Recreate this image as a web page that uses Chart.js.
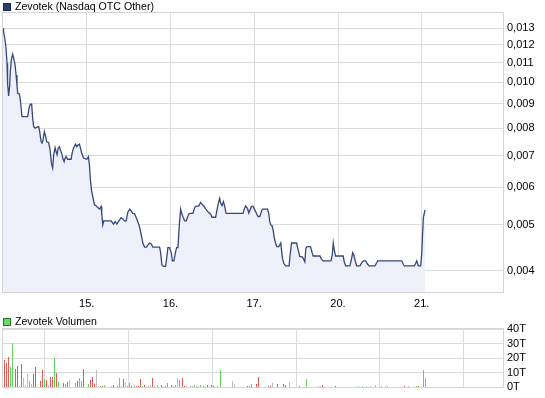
<!DOCTYPE html>
<html><head><meta charset="utf-8">
<script src="https://cdn.jsdelivr.net/npm/chart.js@4"></script>
<style>
html,body{margin:0;padding:0;background:#fff;overflow:hidden;}
#wrap{position:relative;width:545px;height:398px;}
#c1{position:absolute;left:0;top:0;}
#c2{position:absolute;left:0;top:312px;}
</style></head><body>
<div id="wrap">
<canvas id="c1" width="545" height="312"></canvas>
<canvas id="c2" width="545" height="86"></canvas>
</div>
<script>
// ---- DATA ----
const seriesName = "Zevotek (Nasdaq OTC Other)";
const volumeName = "Zevotek Volumen";
const dayTicks = [1, 2, 3, 4, 5];
const dayLabels = ["15.", "16.", "17.", "20.", "21."];
const priceTicks = [0.004, 0.005, 0.006, 0.007, 0.008, 0.009, 0.010, 0.011, 0.012, 0.013];
const volumeTicks = [0, 10000, 20000, 30000, 40000];

// time in trading days since start of the window
const priceTime = [0.000,0.007,0.024,0.036,0.048,0.055,0.067,0.079,0.087,0.099,0.115,0.127,0.144,0.156,0.167,0.175,0.195,0.207,0.219,0.227,0.294,0.315,0.327,0.342,0.354,0.366,0.383,0.407,0.426,0.438,0.455,0.467,0.478,0.494,0.510,0.522,0.545,0.562,0.578,0.593,0.605,0.622,0.634,0.646,0.658,0.673,0.685,0.701,0.713,0.730,0.742,0.754,0.773,0.813,0.825,0.841,0.865,0.880,0.897,0.913,0.925,0.940,0.961,
1.000,1.020,1.032,1.044,1.056,1.072,1.092,1.112,1.132,1.152,1.172,1.179,1.191,1.203,1.292,1.319,1.340,1.359,1.383,1.411,1.431,1.451,1.471,1.490,1.514,1.531,1.550,1.571,1.591,1.610,1.630,1.651,1.670,1.690,1.714,1.730,1.750,1.770,1.789,1.830,1.870,1.882,1.897,1.914,1.941,1.957,1.969,1.989,
2.010,2.022,2.041,2.057,2.073,2.089,2.105,2.121,2.133,2.153,2.169,2.189,2.216,2.232,2.268,2.288,2.309,2.336,2.360,2.376,2.400,2.428,2.456,2.480,2.495,2.539,2.555,2.572,2.587,2.599,2.615,2.632,2.647,2.663,2.866,2.878,2.895,2.919,2.934,2.950,2.967,2.986,
3.006,3.026,3.045,3.066,3.086,3.098,3.158,3.173,3.185,3.197,3.213,3.225,3.237,3.254,3.269,3.293,3.317,3.325,3.337,3.353,3.373,3.416,3.428,3.445,3.505,3.524,3.544,3.572,3.589,3.604,3.616,3.632,3.672,3.691,3.703,3.784,3.804,3.823,3.915,3.931,3.943,3.955,3.971,
4.062,4.074,4.091,4.142,4.163,4.175,4.190,4.202,4.222,4.262,4.282,4.301,4.330,4.354,4.370,4.441,4.462,4.474,4.761,4.780,4.792,4.911,4.928,4.940,4.959,4.988,
5.000,5.012,5.019,5.039];
const priceValue = [0.01300,0.01279,0.01228,0.01180,0.01097,0.00995,0.00936,0.00979,0.01053,0.01115,0.01146,0.01124,0.01088,0.01036,0.00987,0.00948,0.00945,0.00918,0.00874,0.00846,0.00846,0.00888,0.00899,0.00899,0.00840,0.00806,0.00800,0.00804,0.00806,0.00787,0.00749,0.00744,0.00756,0.00787,0.00768,0.00749,0.00746,0.00720,0.00675,0.00659,0.00703,0.00728,0.00714,0.00703,0.00726,0.00731,0.00720,0.00708,0.00692,0.00680,0.00692,0.00697,0.00688,0.00688,0.00708,0.00726,0.00740,0.00731,0.00738,0.00740,0.00726,0.00708,0.00692,
0.00688,0.00697,0.00669,0.00622,0.00593,0.00574,0.00551,0.00549,0.00544,0.00540,0.00547,0.00529,0.00500,0.00510,0.00510,0.00502,0.00508,0.00502,0.00510,0.00518,0.00515,0.00510,0.00510,0.00532,0.00540,0.00535,0.00529,0.00528,0.00518,0.00508,0.00496,0.00476,0.00458,0.00449,0.00449,0.00454,0.00458,0.00456,0.00449,0.00449,0.00449,0.00437,0.00412,0.00409,0.00409,0.00429,0.00448,0.00448,
0.00436,0.00420,0.00420,0.00436,0.00448,0.00448,0.00500,0.00540,0.00529,0.00518,0.00510,0.00510,0.00527,0.00529,0.00529,0.00544,0.00548,0.00548,0.00558,0.00553,0.00547,0.00538,0.00531,0.00527,0.00519,0.00519,0.00538,0.00556,0.00569,0.00556,0.00549,0.00560,0.00547,0.00529,0.00529,0.00538,0.00548,0.00542,0.00530,0.00538,0.00547,0.00547,
0.00538,0.00529,0.00521,0.00521,0.00534,0.00540,0.00540,0.00529,0.00508,0.00500,0.00498,0.00488,0.00472,0.00458,0.00450,0.00450,0.00458,0.00443,0.00425,0.00415,0.00410,0.00410,0.00432,0.00458,0.00458,0.00443,0.00429,0.00428,0.00424,0.00418,0.00447,0.00450,0.00450,0.00437,0.00430,0.00430,0.00423,0.00420,0.00420,0.00432,0.00458,0.00443,0.00430,
0.00430,0.00418,0.00410,0.00410,0.00425,0.00437,0.00432,0.00422,0.00410,0.00410,0.00416,0.00420,0.00420,0.00413,0.00410,0.00410,0.00416,0.00420,0.00420,0.00413,0.00410,0.00410,0.00415,0.00420,0.00410,0.00410,
0.00436,0.00488,0.00519,0.00538];

const volumeTime = [0.019,0.043,0.067,0.091,0.115,0.147,0.175,0.199,0.222,0.246,0.270,0.294,0.318,0.342,0.366,0.390,0.450,0.474,0.498,0.522,0.545,0.569,0.593,0.617,0.641,0.665,0.725,0.749,0.773,0.797,0.868,0.892,0.916,0.940,0.964,
1.024,1.048,1.072,1.096,1.120,1.167,1.191,1.215,1.299,1.323,1.371,1.395,1.419,1.443,1.467,1.490,1.514,1.538,1.574,1.598,1.622,1.646,1.670,1.694,1.742,1.766,1.789,1.813,1.849,1.897,1.921,1.945,1.969,
2.017,2.041,2.065,2.089,2.112,2.148,2.172,2.196,2.244,2.268,2.292,2.316,2.340,2.364,2.388,2.447,2.495,2.519,2.567,2.591,2.746,2.770,2.914,2.938,2.962,
3.022,3.045,3.165,3.189,3.213,3.273,3.344,3.368,3.416,3.536,3.620,3.763,3.787,3.811,3.967,
4.242,4.289,4.337,4.385,4.445,4.517,4.565,4.589,4.792,4.840,4.935,4.959,
5.019,5.043];
const volumeValue = [18900,16900,20900,14200,30200,12900,14900,900,16200,6200,1600,8900,4200,2200,8900,14200,4200,11600,5600,4900,1600,6900,6900,20200,10200,3600,2900,2200,3600,4900,2900,4200,6200,4200,12900,
2200,4900,6900,2200,11600,900,900,1600,900,1600,900,6200,900,5600,3600,900,2900,900,1600,900,900,5600,900,1600,900,1600,6200,900,1600,1600,900,900,2900,
1600,900,1600,6200,4900,6200,900,900,900,900,1600,900,900,1600,900,1600,1600,900,900,11600,4200,2200,900,900,2200,
2200,6900,1600,900,2900,2200,2200,1600,3600,900,5600,900,900,1600,900,
900,900,900,900,1600,900,900,900,900,900,900,900,
11600,6200];
// 1 = up (green), -1 = down (red), 0 = unchanged (grey)
const volumeDir = [-1,-1,-1,1,1,-1,-1,0,-1,0,0,0,1,0,-1,-1,-1,-1,1,-1,0,-1,-1,1,-1,1,-1,1,-1,0,1,-1,1,1,-1,
1,-1,-1,-1,0,1,-1,1,0,-1,-1,1,0,-1,0,1,1,-1,0,-1,-1,-1,1,-1,0,0,-1,0,0,-1,0,0,1,
-1,0,1,0,1,-1,-1,0,0,0,1,0,0,1,-1,-1,-1,-1,1,1,0,0,-1,-1,1,
-1,-1,0,-1,0,-1,-1,-1,0,-1,1,0,0,-1,-1,
0,1,0,0,0,0,0,0,-1,0,1,-1,
1,1];

// ---- STYLE ----
const FONT = "'Liberation Sans', Arial, sans-serif";
const GRID = '#dcdcdc';
const X_MAX = 5.97;
Chart.defaults.font.family = FONT;
Chart.defaults.font.size = 11;
Chart.defaults.color = '#000';

const boxLegend = {
  id: 'boxLegend',
  afterDraw(chart, args, o) {
    const ctx = chart.ctx;
    ctx.save();
    ctx.fillStyle = o.fill;
    ctx.fillRect(o.x, o.y, 8, 8);
    ctx.strokeStyle = o.stroke;
    ctx.lineWidth = 1;
    ctx.strokeRect(o.x + 0.5, o.y + 0.5, 7, 7);
    ctx.fillStyle = '#000';
    ctx.font = '10.6px ' + FONT;
    ctx.textBaseline = 'middle';
    ctx.textAlign = 'left';
    ctx.fillText(o.text, o.x + 12, o.y + 4.5);
    ctx.restore();
  }
};
const frame = {
  id: 'frame',
  afterDraw(chart) {
    const a = chart.chartArea, ctx = chart.ctx;
    ctx.save();
    ctx.strokeStyle = '#d4d4d4';
    ctx.lineWidth = 1;
    ctx.strokeRect(Math.round(a.left) - 0.5, Math.round(a.top) - 0.5, Math.round(a.right - a.left) + 1, Math.round(a.bottom - a.top) + 1);
    ctx.restore();
  }
};
// snap thin volume bars to whole pixels so they render crisp
const snapBars = {
  id: 'snapBars',
  beforeDatasetsDraw(chart) {
    chart.getDatasetMeta(0).data.forEach(el => {
      el.x = Math.floor(el.x) + 0.5;
      el.y = Math.round(el.y);
      el.base = Math.round(el.base);
    });
  }
};

function xScale(showLabels, height) {
  return {
    type: 'linear', min: 0, max: X_MAX, offset: false,
    afterBuildTicks: s => { s.ticks = dayTicks.map(v => ({ value: v })); },
    afterFit: s => { s.height = height; },
    grid: { color: GRID, drawTicks: false },
    border: { display: false },
    ticks: { display: showLabels, padding: 5, autoSkip: false, maxRotation: 0,
      callback: (v, i) => dayLabels[i] }
  };
}

new Chart(document.getElementById('c1'), {
  type: 'line',
  data: {
    datasets: [{
      label: seriesName,
      data: priceTime.map((t, i) => ({ x: t, y: priceValue[i] })),
      borderColor: '#34487a',
      borderWidth: 1.3,
      backgroundColor: '#eef1f9',
      fill: 'start',
      pointRadius: 0,
      tension: 0
    }]
  },
  options: {
    responsive: false, animation: false, events: [],
    layout: { padding: { left: 3, top: 13, right: 0, bottom: 0 } },
    plugins: {
      legend: { display: false }, tooltip: { enabled: false },
      boxLegend: { x: 3, y: 3, fill: '#2c3e6e', stroke: '#1c2a4e', text: seriesName }
    },
    scales: {
      x: xScale(true, 20),
      y: {
        type: 'logarithmic', position: 'right', min: 0.00361, max: 0.0140,
        afterBuildTicks: s => { s.ticks = priceTicks.map(v => ({ value: v })); },
        afterFit: s => { s.width = 42; },
        grid: { color: GRID, drawTicks: false },
        border: { display: false },
        ticks: { padding: 4, autoSkip: false,
          callback: v => Number(v).toFixed(3).replace('.', ',') }
      }
    }
  },
  plugins: [boxLegend, frame]
});

new Chart(document.getElementById('c2'), {
  type: 'bar',
  data: {
    datasets: [{
      label: volumeName,
      data: volumeTime.map((t, i) => ({ x: t, y: volumeValue[i] })),
      backgroundColor: volumeDir.map(d => d > 0 ? '#5fd35a' : (d < 0 ? '#e05a5a' : '#bdbdbd')),
      barThickness: 1,
      inflateAmount: 0,
      borderWidth: 0
    }]
  },
  options: {
    responsive: false, animation: false, events: [],
    layout: { padding: { left: 3, top: 17, right: 0, bottom: 0 } },
    plugins: {
      legend: { display: false }, tooltip: { enabled: false },
      boxLegend: { x: 3, y: 6, fill: '#66dd66', stroke: '#2f6f2f', text: volumeName }
    },
    scales: {
      x: xScale(false, 9),
      y: {
        type: 'linear', position: 'right', min: 0, max: 40000,
        afterBuildTicks: s => { s.ticks = volumeTicks.map(v => ({ value: v })); },
        afterFit: s => { s.width = 42; },
        grid: { color: GRID, drawTicks: false },
        border: { display: false },
        ticks: { padding: 4, autoSkip: false, callback: v => (v / 1000) + 'T' }
      }
    }
  },
  plugins: [boxLegend, frame, snapBars]
});
</script>
</body></html>
